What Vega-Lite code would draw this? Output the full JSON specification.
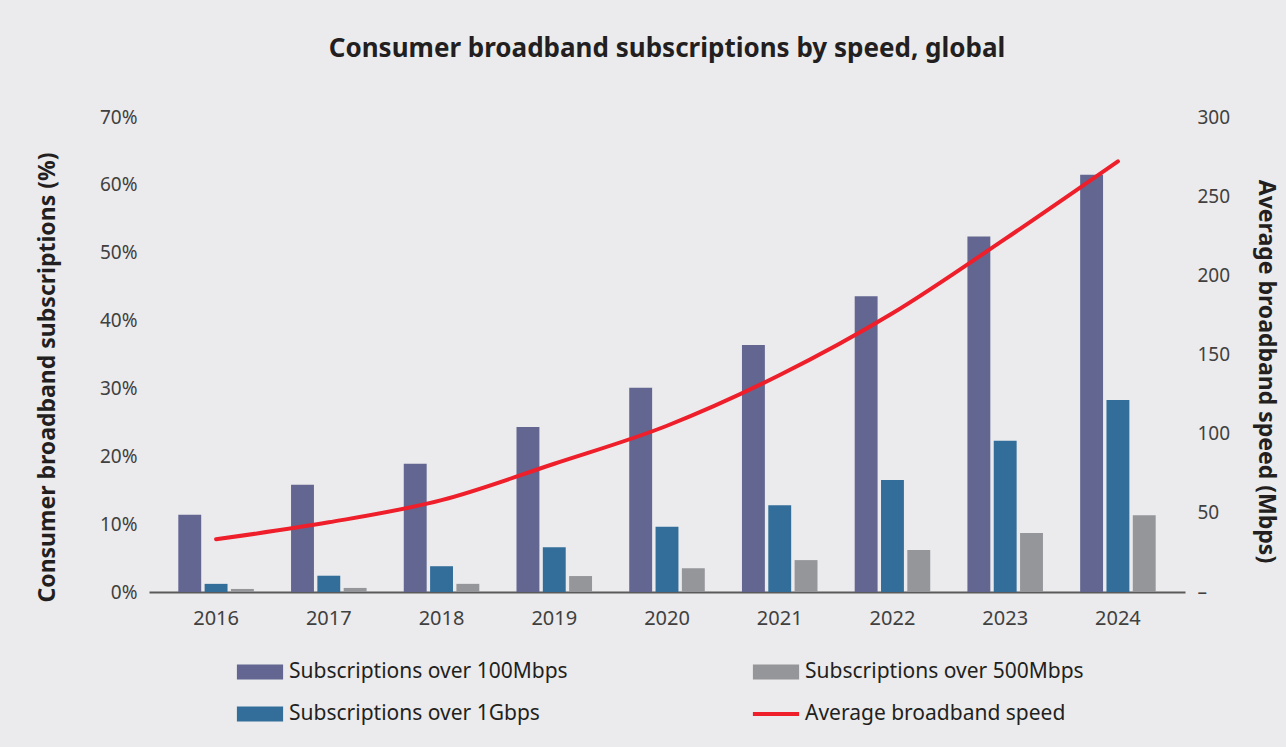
{
  "$schema": "https://vega.github.io/schema/vega-lite/v6.json",
  "autosize": "none",
  "width": 1036,
  "height": 475,
  "padding": {"left": 149, "top": 117, "right": 101, "bottom": 155},
  "background": "#ebebed",
  "config": {
    "view": {"stroke": null},
    "font": "Noto Sans"
  },
  "title": {
    "text": "Consumer broadband subscriptions by speed, global",
    "font": "Noto Sans",
    "fontSize": 26,
    "fontWeight": "bold",
    "color": "#231f20",
    "anchor": "middle",
    "offset": 46
  },
  "datasets": {
    "bars": [
      {"year": "2016", "series": "Subscriptions over 100Mbps", "share": 11.4},
      {"year": "2016", "series": "Subscriptions over 1Gbps", "share": 1.2},
      {"year": "2016", "series": "Subscriptions over 500Mbps", "share": 0.45},
      {"year": "2017", "series": "Subscriptions over 100Mbps", "share": 15.8},
      {"year": "2017", "series": "Subscriptions over 1Gbps", "share": 2.4},
      {"year": "2017", "series": "Subscriptions over 500Mbps", "share": 0.6},
      {"year": "2018", "series": "Subscriptions over 100Mbps", "share": 18.9},
      {"year": "2018", "series": "Subscriptions over 1Gbps", "share": 3.8},
      {"year": "2018", "series": "Subscriptions over 500Mbps", "share": 1.2},
      {"year": "2019", "series": "Subscriptions over 100Mbps", "share": 24.3},
      {"year": "2019", "series": "Subscriptions over 1Gbps", "share": 6.6},
      {"year": "2019", "series": "Subscriptions over 500Mbps", "share": 2.35},
      {"year": "2020", "series": "Subscriptions over 100Mbps", "share": 30.1},
      {"year": "2020", "series": "Subscriptions over 1Gbps", "share": 9.6},
      {"year": "2020", "series": "Subscriptions over 500Mbps", "share": 3.5},
      {"year": "2021", "series": "Subscriptions over 100Mbps", "share": 36.4},
      {"year": "2021", "series": "Subscriptions over 1Gbps", "share": 12.8},
      {"year": "2021", "series": "Subscriptions over 500Mbps", "share": 4.7},
      {"year": "2022", "series": "Subscriptions over 100Mbps", "share": 43.6},
      {"year": "2022", "series": "Subscriptions over 1Gbps", "share": 16.5},
      {"year": "2022", "series": "Subscriptions over 500Mbps", "share": 6.2},
      {"year": "2023", "series": "Subscriptions over 100Mbps", "share": 52.4},
      {"year": "2023", "series": "Subscriptions over 1Gbps", "share": 22.3},
      {"year": "2023", "series": "Subscriptions over 500Mbps", "share": 8.7},
      {"year": "2024", "series": "Subscriptions over 100Mbps", "share": 61.5},
      {"year": "2024", "series": "Subscriptions over 1Gbps", "share": 28.3},
      {"year": "2024", "series": "Subscriptions over 500Mbps", "share": 11.3}
    ],
    "speed": [
      {"year": "2016", "speed": 33.3},
      {"year": "2017", "speed": 44},
      {"year": "2018", "speed": 58},
      {"year": "2019", "speed": 81},
      {"year": "2020", "speed": 105},
      {"year": "2021", "speed": 137},
      {"year": "2022", "speed": 176},
      {"year": "2023", "speed": 223},
      {"year": "2024", "speed": 272}
    ]
  },
  "layer": [
    {
      "data": {"name": "bars"},
      "mark": {"type": "bar"},
      "encoding": {
        "x": {
          "field": "year",
          "type": "nominal",
          "scale": {"paddingInner": 0.33, "paddingOuter": 0.26},
          "axis": {
            "title": null,
            "labelAngle": 0,
            "labelFontSize": 20,
            "labelColor": "#404040",
            "labelPadding": 16,
            "ticks": false,
            "domain": true,
            "domainColor": "#5a5a5a",
            "domainWidth": 2
          }
        },
        "xOffset": {
          "field": "series",
          "type": "nominal",
          "scale": {
            "domain": ["Subscriptions over 100Mbps", "Subscriptions over 1Gbps", "Subscriptions over 500Mbps"],
            "paddingInner": 0.13
          }
        },
        "y": {
          "field": "share",
          "type": "quantitative",
          "scale": {"domain": [0, 70]},
          "axis": {
            "title": "Consumer broadband  subscriptions  (%)",
            "titleFontSize": 23,
            "titleFontWeight": "bold",
            "titleColor": "#231f20",
            "titlePadding": 40,
            "titleY": 260,
            "values": [0, 10, 20, 30, 40, 50, 60, 70],
            "labelExpr": "datum.value + '%'",
            "labelFontSize": 19,
            "labelColor": "#404040",
            "labelPadding": 12,
            "ticks": false,
            "domain": false,
            "grid": false
          }
        },
        "color": {
          "field": "series",
          "type": "nominal",
          "scale": {
            "domain": ["Subscriptions over 100Mbps", "Subscriptions over 1Gbps", "Subscriptions over 500Mbps", "Average broadband speed"],
            "range": ["#626690", "#336e9a", "#959699", "#ee1f2a"]
          },
          "legend": {
            "title": null,
            "orient": "none",
            "legendX": 90,
            "legendY": 534,
            "columns": 2,
            "columnPadding": 184,
            "rowPadding": 11,
            "padding": 0,
            "symbolSize": 1764,
            "labelOffset": 8,
            "labelFontSize": 21,
            "labelColor": "#231f20",
            "labelLimit": 400,
            "encode": {
              "symbols": {
                "update": {
                  "shape": {"signal": "datum.value == 'Average broadband speed' ? 'M-1.1,-0.09H1.1V0.09H-1.1Z' : 'M-1.1,-0.36H1.1V0.36H-1.1Z'"},
                  "fill": {"scale": "color", "field": "value"},
                  "stroke": {"value": null},
                  "strokeWidth": {"value": 0},
                  "opacity": {"value": 1},
                  "fillOpacity": {"value": 1}
                }
              }
            }
          }
        }
      }
    },
    {
      "data": {"name": "speed"},
      "mark": {"type": "line", "interpolate": "monotone", "strokeWidth": 4, "strokeCap": "round"},
      "encoding": {
        "x": {"field": "year", "type": "nominal"},
        "y": {
          "field": "speed",
          "type": "quantitative",
          "scale": {"domain": [0, 300]},
          "axis": {
            "orient": "right",
            "title": "Average broadband  speed  (Mbps)",
            "titleFontSize": 23,
            "titleFontWeight": "bold",
            "titleColor": "#231f20",
            "titlePadding": 24,
            "titleY": 254,
            "values": [0, 50, 100, 150, 200, 250, 300],
            "labelExpr": "datum.value == 0 ? '–' : datum.label",
            "labelFontSize": 19,
            "labelColor": "#404040",
            "labelPadding": 12,
            "ticks": false,
            "domain": false,
            "grid": false
          }
        },
        "color": {"datum": "Average broadband speed", "type": "nominal"}
      }
    }
  ],
  "resolve": {"scale": {"y": "independent"}}
}
